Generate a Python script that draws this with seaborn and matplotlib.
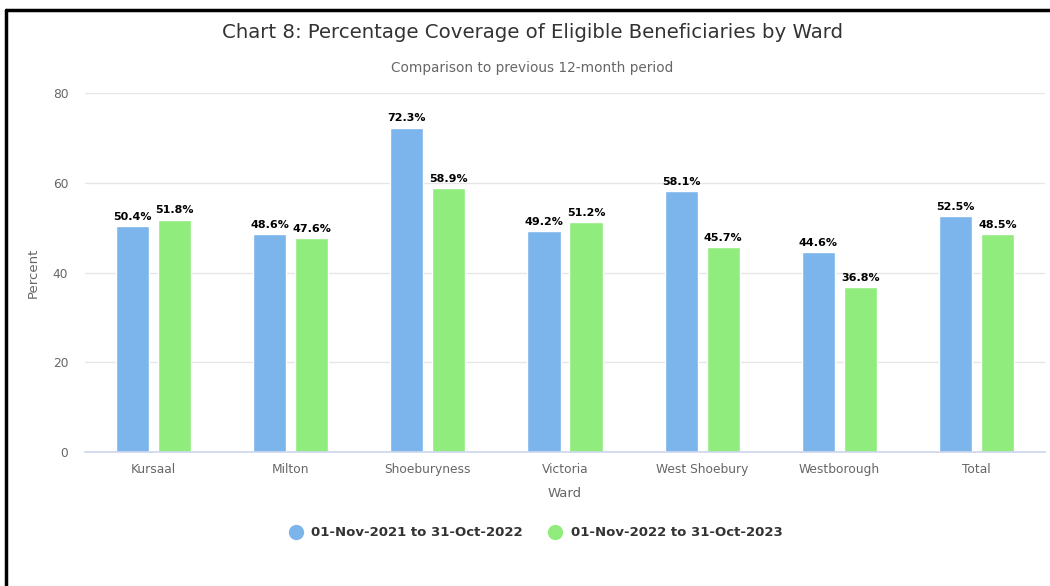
import numpy as np
import pandas as pd
import seaborn as sns
import matplotlib.pyplot as plt
from matplotlib.lines import Line2D

wards = ["Kursaal", "Milton", "Shoeburyness", "Victoria", "West Shoebury", "Westborough", "Total"]
period_1 = "01-Nov-2021 to 31-Oct-2022"
period_2 = "01-Nov-2022 to 31-Oct-2023"
values_1 = [50.4, 48.6, 72.3, 49.2, 58.1, 44.6, 52.5]
values_2 = [51.8, 47.6, 58.9, 51.2, 45.7, 36.8, 48.5]
colors = ["#7cb5ec", "#90ed7d"]

data = pd.DataFrame({
    "Ward": wards * 2,
    "Percent": values_1 + values_2,
    "Period": [period_1] * len(wards) + [period_2] * len(wards),
})

sns.set_style("white")
plt.rcParams["font.family"] = ["DejaVu Sans"]

fig = plt.figure(figsize=(10.5, 5.86), dpi=100)
ax = fig.add_axes([85 / 1050, 1 - 452 / 586, 960 / 1050, (452 - 93) / 586])

sns.barplot(data=data, x="Ward", y="Percent", hue="Period", palette=colors,
            saturation=1, width=0.613, gap=0.21, edgecolor="white", linewidth=1,
            legend=False, ax=ax)

for c in ax.containers:
    ax.bar_label(c, fmt="%.1f%%", padding=3, fontsize=8, fontweight="bold", color="black")

ax.set_ylim(0, 80)
ax.set_yticks([0, 20, 40, 60, 80])
ax.grid(axis="y", color="#e6e6e6", linewidth=1)
ax.set_axisbelow(True)
for s in ["top", "right", "left"]:
    ax.spines[s].set_visible(False)
ax.spines["bottom"].set_color("#ccd6eb")
ax.spines["bottom"].set_linewidth(1.2)
ax.tick_params(axis="both", length=0, labelsize=8.8, labelcolor="#666666")
ax.tick_params(axis="y", pad=12)
ax.tick_params(axis="x", pad=8)
ax.set_xlabel("Ward", fontsize=9.5, color="#666666", labelpad=8)
ax.set_ylabel("Percent", fontsize=9.5, color="#666666", labelpad=9)

fig.text(532 / 1050, 1 - 33 / 586, "Chart 8: Percentage Coverage of Eligible Beneficiaries by Ward",
         ha="center", va="center", fontsize=14.2, color="#333333")
fig.text(532 / 1050, 1 - 68 / 586, "Comparison to previous 12-month period",
         ha="center", va="center", fontsize=9.8, color="#666666")

handles = [Line2D([], [], marker="o", linestyle="", markersize=10, color=col) for col in colors]
leg = fig.legend(handles, [period_1, period_2], loc="center", bbox_to_anchor=(0.507, 1 - 533 / 586),
                 ncol=2, frameon=False, handletextpad=0.2, columnspacing=1.4, fontsize=9.5)
for t in leg.get_texts():
    t.set_fontweight("bold")
    t.set_color("#333333")

# frame lines on left and top
fig.add_artist(Line2D([6 / 1050, 6 / 1050], [0, 1 - 10 / 586], color="black", linewidth=2.5))
fig.add_artist(Line2D([6 / 1050, 1], [1 - 10 / 586, 1 - 10 / 586], color="black", linewidth=2.5))

plt.savefig("out.png", dpi=100)
